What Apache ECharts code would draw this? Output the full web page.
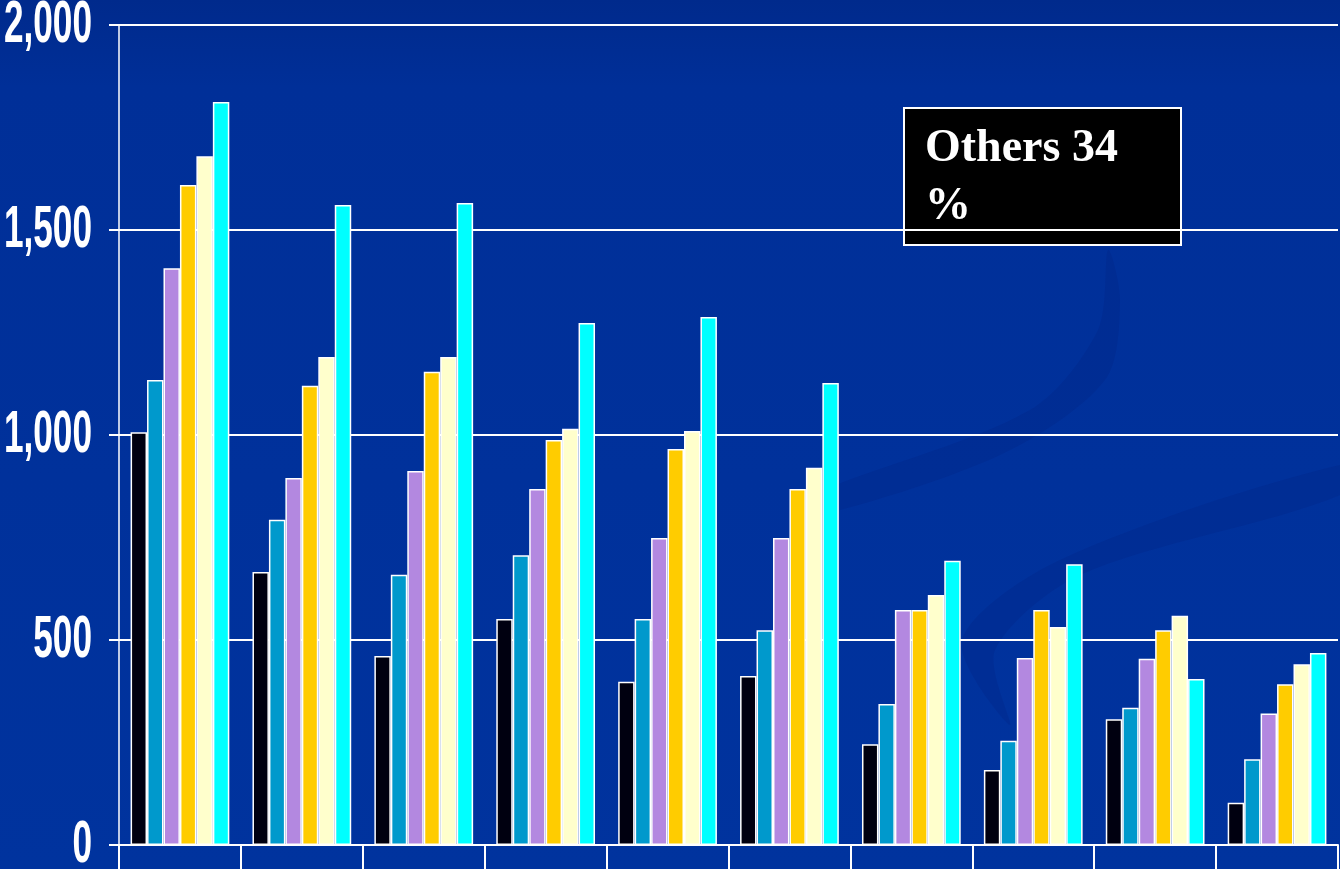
<!DOCTYPE html>
<html><head><meta charset="utf-8">
<script src="https://cdn.jsdelivr.net/npm/echarts@6/dist/echarts.min.js"></script>
<style>html,body{margin:0;padding:0;background:#003399}#c{width:1340px;height:869px}</style>
</head><body><div id="c"></div>
<script>
const categories = ['1','2','3','4','5','6','7','8','9','10'];
const seriesNames = ['Series 1','Series 2','Series 3','Series 4','Series 5','Series 6'];
const s1 = [1007, 666, 461, 551, 398, 412, 246, 183, 307, 103];
const s2 = [1134, 793, 659, 707, 551, 524, 344, 254, 335, 209];
const s3 = [1407, 895, 912, 868, 749, 749, 573, 456, 454, 321];
const s4 = [1610, 1120, 1154, 988, 966, 868, 573, 573, 524, 392];
const s5 = [1680, 1190, 1190, 1015, 1010, 920, 610, 532, 559, 441];
const s6 = [1812, 1561, 1566, 1273, 1288, 1127, 693, 685, 405, 468];
const yTickValues = [0, 500, 1000, 1500, 2000];
const yTickLabels = ['0', '500', '1,000', '1,500', '2,000'];
const colors = ['#000010', '#0099cc', '#b388e0', '#ffcc00', '#ffffcc', '#00ffff'];
const annotationText = 'Others 34\n%';

const allSeries = [s1, s2, s3, s4, s5, s6];
const GRID_LEFT = 119;
const chart = echarts.init(document.getElementById('c'), null, {renderer: 'canvas'});

const swooshFill = 'rgba(0, 22, 110, 0.16)';
const decor = [
  {type: 'polygon', z: -5, silent: true,
   shape: {smooth: 0.3, points: [[800, 520], [1000, 455], [1105, 380], [1120, 300], [1108, 250], [1098, 330], [1030, 410], [800, 500]]},
   style: {fill: swooshFill}},
  {type: 'polygon', z: -5, silent: true,
   shape: {smooth: 0.3, points: [[1010, 725], [962, 640], [1060, 560], [1340, 465], [1340, 495], [1080, 575], [995, 650]]},
   style: {fill: swooshFill}}
];
const box = {
  type: 'group', left: 903, top: 107, z: 100,
  children: [
    {type: 'rect', shape: {x: 0, y: 0, width: 277, height: 137},
     style: {fill: '#000000', stroke: '#ffffff', lineWidth: 2}},
    {type: 'text', x: 21, y: 12,
     style: {text: annotationText, fill: '#ffffff', font: 'bold 46px "Liberation Serif", "DejaVu Serif", serif', lineHeight: 58}}
  ]
};

const option = {
  animation: false,
  backgroundColor: {
    type: 'linear', x: 0, y: 0, x2: 0, y2: 1,
    colorStops: [{offset: 0, color: '#002a8c'}, {offset: 0.1, color: '#002f98'}, {offset: 1, color: '#00339e'}]
  },
  grid: {left: GRID_LEFT, top: 25, right: 2, bottom: 24, containLabel: false, outerBoundsMode: 'none'},
  xAxis: {
    type: 'category',
    data: categories,
    axisLine: {show: true, lineStyle: {color: '#ffffff', width: 2}},
    axisTick: {show: true, length: 26, lineStyle: {color: '#ffffff', width: 2}},
    axisLabel: {show: false},
    splitLine: {show: false}
  },
  yAxis: {
    type: 'value', min: 0, max: 2000, interval: 500,
    axisLine: {show: true, lineStyle: {color: '#ffffff', width: 1.5}},
    axisTick: {show: true, length: 10, lineStyle: {color: '#ffffff', width: 2}},
    splitLine: {show: true, lineStyle: {color: '#ffffff', width: 2}},
    axisLabel: {show: false}
  },
  series: allSeries.map((d, i) => ({
    type: 'bar', name: seriesNames[i], data: d,
    barGap: '0%', barCategoryGap: '19%',
    itemStyle: {color: colors[i], borderColor: '#ffffff', borderWidth: 1.5}
  })),
  graphic: decor.concat([box])
};
chart.setOption(option);

// Tick labels placed through the value axis scale (condensed, tall look of the original)
const labelGraphics = yTickValues.map((v, i) => {
  const py = chart.convertToPixel({yAxisIndex: 0}, v);
  return {
    type: 'text', z: 50, x: GRID_LEFT - 27, y: py + 1, scaleX: 0.8, scaleY: 1.34,
    style: {text: yTickLabels[i], fill: '#ffffff', align: 'right', verticalAlign: 'middle',
            font: 'bold 44px "Liberation Sans", Arial, sans-serif'}
  };
});
chart.setOption({graphic: decor.concat([box]).concat(labelGraphics)});
</script>
</body></html>
